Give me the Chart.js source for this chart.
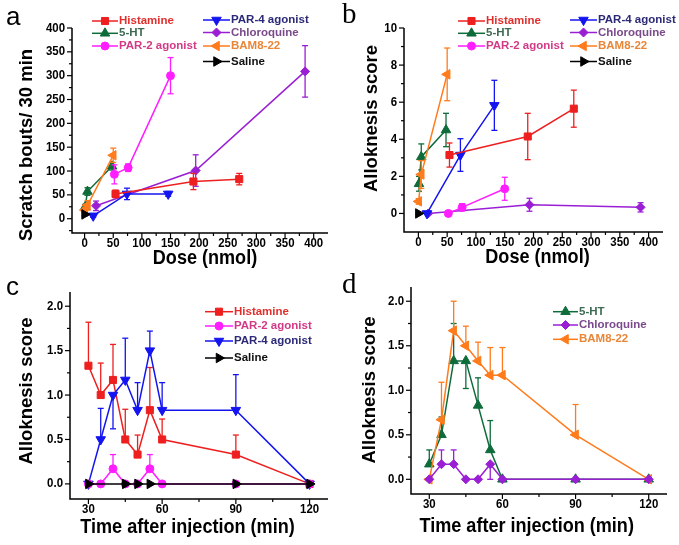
<!DOCTYPE html>
<html>
<head>
<meta charset="utf-8">
<script src="https://cdn.jsdelivr.net/npm/chart.js@4.4.0/dist/chart.umd.min.js"></script>
<style>
  body { margin: 0; background: #fff; width: 679px; height: 545px; overflow: hidden; position: relative; }
  canvas { position: absolute; }
</style>
</head>
<body>
<canvas id="ca" width="340" height="272" style="left:0;top:0"></canvas>
<canvas id="cb" width="339" height="272" style="left:340px;top:0"></canvas>
<canvas id="cc" width="340" height="273" style="left:0;top:272px"></canvas>
<canvas id="cd" width="339" height="273" style="left:340px;top:272px"></canvas>
<script>
// ---- panel a: scratch bouts vs dose ----
var aHistDose = [54, 190, 270], aHist = [52, 78, 83], aHistErr = [8, 17, 12];
var a5htDose = [1, 5, 48], a5ht = [25, 57, 110], a5htErr = [5, 8, 8];
var aPar2Dose = [52, 76, 150], aPar2 = [93, 107, 300], aPar2Err = [20, 8, 38];
var aPar4Dose = [15, 74, 146], aPar4 = [6, 52, 52], aPar4Err = [3, 12, 5];
var aCqDose = [20, 194, 385], aCq = [27, 101, 309], aCqErr = [10, 33, 54];
var aBamDose = [0.5, 5, 50], aBam = [18, 28, 133], aBamErr = [5, 10, 15];
var aSalDose = [0], aSal = [9], aSalErr = [3];

// ---- panel b: alloknesis vs dose ----
var bHistDose = [54, 190, 270], bHist = [3.15, 4.15, 5.65], bHistErr = [0.65, 1.25, 1.0];
var b5htDose = [1, 5, 48], b5ht = [1.6, 3.05, 4.5], b5htErr = [0.4, 0.7, 0.9];
var bPar2Dose = [52, 76, 150], bPar2 = [0, 0.33, 1.33], bPar2Err = [0.05, 0.2, 0.62];
var bPar4Dose = [15, 73, 132], bPar4 = [0, 3.15, 5.83], bPar4Err = [0, 0.88, 1.35];
var bCqDose = [17, 193, 386], bCq = [0, 0.47, 0.33], bCqErr = [0, 0.35, 0.25];
var bBamDose = [0.5, 5, 50], bBam = [0.65, 2.1, 7.5], bBamErr = [0.15, 0.75, 1.42];
var bSalDose = [0], bSal = [0], bSalErr = [0];

// ---- panels c, d: time course (negative err = bar drawn downward) ----
var times = [30, 35, 40, 45, 50, 55, 60, 90, 120];
var cHist = [1.33, 1.0, 1.17, 0.5, 0.33, 0.83, 0.5, 0.33, 0];
var cHistErr = [0.49, 0.36, 0.4, 0.34, 0.22, 0.48, 0.23, 0.22, 0];
var cPar2 = [0, 0, 0.17, 0, 0, 0.17, 0, 0, 0];
var cPar2Err = [0, 0, 0.16, 0, 0, 0.16, 0, 0, 0];
var cPar4 = [0, 0.5, 1.0, 1.17, 0.83, 1.5, 0.83, 0.83, 0];
var cPar4Err = [0, 0.35, -0.38, 0.47, 0.31, 0.22, 0.31, 0.4, 0];
var cSalTimes = [30, 45, 50, 55, 90, 120];
var cSal = [0, 0, 0, 0, 0, 0];

var d5ht = [0.17, 0.5, 1.33, 1.33, 0.83, 0.33, 0, 0, 0];
var d5htErr = [0.16, 0.2, 0.42, -0.31, 0.31, 0.33, 0, 0, 0];
var dCq = [0, 0.17, 0.17, 0, 0, 0.17, 0, 0, 0];
var dCqErr = [0, 0.16, 0.16, 0, 0, -0.17, 0, 0, 0];
var dBam = [0, 0.67, 1.67, 1.5, 1.33, 1.17, 1.17, 0.5, 0];
var dBamErr = [0, 0.42, 0.33, 0.22, 0.21, 0.31, 0.31, 0.34, 0];

// tick labels
var doseTicks = [0, 50, 100, 150, 200, 250, 300, 350, 400];
var doseMinor = [25, 75, 125, 175, 225, 275, 325, 375];
var scratchTicks = [0, 50, 100, 150, 200, 250, 300, 350, 400];
var scratchMinor = [-25, 25, 75, 125, 175, 225, 275, 325, 375];
var scoreTicks = [0, 2, 4, 6, 8, 10];
var scoreMinor = [1, 3, 5, 7, 9];
var timeTicks = [30, 60, 90, 120];
var timeMinor = [45, 75, 105];
var lateTicks = [0, 0.5, 1.0, 1.5, 2.0];
var lateMinor = [0.25, 0.75, 1.25, 1.75];

var styles = {
  'Histamine':     { c: '#ee1f1f', t: '#e0302e', ps: 'rect', r: 5, rot: 0 },
  '5-HT':          { c: '#0e6b3a', t: '#3e6a52', ps: 'triangle', r: 5.5, rot: 0 },
  'PAR-2 agonist': { c: '#ff1eff', t: '#d23a86', ps: 'circle', r: 4, rot: 0 },
  'PAR-4 agonist': { c: '#1414f0', t: '#2c2a78', ps: 'triangle', r: 5.5, rot: 180 },
  'Chloroquine':   { c: '#9a1fd4', t: '#7b4a8c', ps: 'rectRot', r: 4.5, rot: 0 },
  'BAM8-22':       { c: '#ff7b1c', t: '#e8873a', ps: 'triangle', r: 5.5, rot: -90 },
  'Saline':        { c: '#000000', t: '#111111', ps: 'triangle', r: 5.5, rot: 90 }
};

var SANS = '"Liberation Sans", Arial, sans-serif';
var SERIF = '"Liberation Serif", "Times New Roman", serif';

function series(name, xs, ys, errs) {
  var s = styles[name];
  return {
    label: name,
    data: xs.map(function (x, i) { return { x: x, y: ys[i] }; }),
    errs: errs,
    showLine: true,
    borderColor: s.c,
    backgroundColor: s.c,
    pointBackgroundColor: s.c,
    pointBorderColor: s.c,
    pointStyle: s.ps,
    pointRotation: s.rot,
    pointRadius: s.r,
    pointBorderWidth: 1,
    borderWidth: 1.5,
    clip: false
  };
}

function put(ctx, s, x, y, font, color, align, rot, sq, base) {
  ctx.save();
  ctx.translate(x, y);
  if (rot) ctx.rotate(rot);
  ctx.scale(sq || 1, 1);
  ctx.font = font;
  ctx.fillStyle = color;
  ctx.textAlign = align;
  ctx.textBaseline = base || 'middle';
  ctx.fillText(s, 0, 0);
  ctx.restore();
}

function seg(ctx, x1, y1, x2, y2) {
  ctx.beginPath(); ctx.moveTo(x1, y1); ctx.lineTo(x2, y2); ctx.stroke();
}

function fmt(v, dec) { return dec ? v.toFixed(dec) : String(v); }

// axes, ticks, error bars, legend, titles
function decor(cfg) {
  return {
    id: 'decor',
    beforeDatasetDraw: function (chart, args) {
      var ds = chart.data.datasets[args.index];
      if (!ds.errs) return;
      var ctx = chart.ctx, ys = chart.scales.y;
      ctx.save();
      ctx.strokeStyle = ds.borderColor;
      ctx.lineWidth = 1.3;
      args.meta.data.forEach(function (pt, i) {
        var e = ds.errs[i];
        if (!e) return;
        var v = ds.data[i].y, px = pt.x;
        if (cfg.both) {
          var t = ys.getPixelForValue(v + Math.abs(e)), b = ys.getPixelForValue(v - Math.abs(e));
          seg(ctx, px, t, px, b);
          seg(ctx, px - 3, t, px + 3, t);
          seg(ctx, px - 3, b, px + 3, b);
        } else {
          var end = ys.getPixelForValue(v + e);
          seg(ctx, px, pt.y, px, end);
          seg(ctx, px - 3, end, px + 3, end);
        }
      });
      ctx.restore();
    },
    afterDraw: function (chart) {
      var ctx = chart.ctx, a = chart.chartArea, xs = chart.scales.x, ys = chart.scales.y;
      var tickFont = 'bold 13px ' + SANS;
      ctx.save();
      ctx.strokeStyle = '#000';
      ctx.lineWidth = 1.5;
      ctx.beginPath();
      ctx.moveTo(a.left, a.top); ctx.lineTo(a.left, a.bottom); ctx.lineTo(a.right, a.bottom);
      ctx.stroke();
      ctx.lineWidth = 1.2;
      cfg.xTicks.forEach(function (v) {
        var p = xs.getPixelForValue(v);
        seg(ctx, p, a.bottom, p, a.bottom + 5);
        put(ctx, fmt(v, cfg.xDec), p, a.bottom + 10, tickFont, '#000', 'center', 0, 0.88);
      });
      cfg.xMinor.forEach(function (v) {
        var p = xs.getPixelForValue(v);
        seg(ctx, p, a.bottom, p, a.bottom + 3);
      });
      cfg.yTicks.forEach(function (v) {
        var p = ys.getPixelForValue(v);
        seg(ctx, a.left, p, a.left - 5, p);
        put(ctx, fmt(v, cfg.yDec), a.left - 7, p, tickFont, '#000', 'right', 0, 0.88);
      });
      cfg.yMinor.forEach(function (v) {
        var p = ys.getPixelForValue(v);
        seg(ctx, a.left, p, a.left - 3, p);
      });

      put(ctx, cfg.xTitle, cfg.xTitlePos[0], cfg.xTitlePos[1], 'bold 21px ' + SANS, '#000', 'center', 0, 0.86);
      put(ctx, cfg.yTitle, cfg.yTitlePos[0], cfg.yTitlePos[1], 'bold 18.5px ' + SANS, '#000', 'center', -Math.PI / 2);
      put(ctx, cfg.label, cfg.labelPos[0], cfg.labelPos[1], cfg.labelFont, '#000', 'left', 0, 1, 'alphabetic');

      cfg.legend.forEach(function (it) {
        var s = styles[it.n];
        ctx.strokeStyle = s.c;
        ctx.fillStyle = s.c;
        ctx.lineWidth = 1.5;
        seg(ctx, it.x1, it.y, it.x2, it.y);
        ctx.lineWidth = 1;
        Chart.helpers.drawPoint(ctx, { pointStyle: s.ps, rotation: s.rot, radius: s.r, borderWidth: 1 }, (it.x1 + it.x2) / 2, it.y);
        put(ctx, it.n, it.x2 + 1, it.y, 'bold 11.5px ' + SANS, s.t, 'left');
      });
      ctx.restore();
    }
  };
}

function mkChart(id, sets, cfg) {
  var el = document.getElementById(id);
  return new Chart(el.getContext('2d'), {
    type: 'scatter',
    data: { datasets: sets },
    options: {
      responsive: false,
      animation: false,
      events: [],
      layout: { padding: { left: 0, top: cfg.top, right: cfg.right, bottom: 0 } },
      plugins: { legend: { display: false }, tooltip: { enabled: false } },
      scales: {
        x: {
          type: 'linear', min: cfg.xMin, max: cfg.xMax,
          grid: { display: false }, border: { display: false }, ticks: { display: false },
          afterFit: function (s) { s.height = cfg.xH; }
        },
        y: {
          type: 'linear', min: cfg.yMin, max: cfg.yMax,
          grid: { display: false }, border: { display: false }, ticks: { display: false },
          afterFit: function (s) { s.width = cfg.yW; }
        }
      }
    },
    plugins: [decor(cfg)]
  });
}

mkChart('ca', [
  series('Saline', aSalDose, aSal, aSalErr),
  series('Histamine', aHistDose, aHist, aHistErr),
  series('PAR-4 agonist', aPar4Dose, aPar4, aPar4Err),
  series('PAR-2 agonist', aPar2Dose, aPar2, aPar2Err),
  series('Chloroquine', aCqDose, aCq, aCqErr),
  series('BAM8-22', aBamDose, aBam, aBamErr),
  series('5-HT', a5htDose, a5ht, a5htErr)
], {
  top: 28, right: 12, yW: 72, xH: 39,
  xMin: -22, xMax: 425, yMin: -30, yMax: 400,
  xTicks: doseTicks, xMinor: doseMinor, yTicks: scratchTicks, yMinor: scratchMinor,
  xDec: 0, yDec: 0, both: true,
  xTitle: 'Dose (nmol)', xTitlePos: [205, 258],
  yTitle: 'Scratch bouts/ 30 min', yTitlePos: [27, 145],
  label: 'a', labelFont: '26px ' + SANS, labelPos: [6, 25],
  legend: [
    { n: 'Histamine', x1: 92, x2: 118, y: 21 },
    { n: '5-HT', x1: 92, x2: 118, y: 33.3 },
    { n: 'PAR-2 agonist', x1: 92, x2: 118, y: 46 },
    { n: 'PAR-4 agonist', x1: 203, x2: 230, y: 20 },
    { n: 'Chloroquine', x1: 203, x2: 230, y: 32.5 },
    { n: 'BAM8-22', x1: 203, x2: 230, y: 46 },
    { n: 'Saline', x1: 203, x2: 230, y: 61.5 }
  ]
});

mkChart('cb', [
  series('Saline', bSalDose, bSal, bSalErr),
  series('Histamine', bHistDose, bHist, bHistErr),
  series('PAR-4 agonist', bPar4Dose, bPar4, bPar4Err),
  series('PAR-2 agonist', bPar2Dose, bPar2, bPar2Err),
  series('Chloroquine', bCqDose, bCq, bCqErr),
  series('BAM8-22', bBamDose, bBam, bBamErr),
  series('5-HT', b5htDose, b5ht, b5htErr)
], {
  top: 28, right: 16, yW: 64, xH: 40,
  xMin: -25, xMax: 425, yMin: -1, yMax: 10,
  xTicks: doseTicks, xMinor: doseMinor, yTicks: scoreTicks, yMinor: scoreMinor,
  xDec: 0, yDec: 0, both: true,
  xTitle: 'Dose (nmol)', xTitlePos: [197.5, 257],
  yTitle: 'Alloknesis score', yTitlePos: [32, 118.5],
  label: 'b', labelFont: '29px ' + SERIF, labelPos: [2, 23],
  legend: [
    { n: 'Histamine', x1: 118, x2: 145, y: 21 },
    { n: '5-HT', x1: 118, x2: 145, y: 33.3 },
    { n: 'PAR-2 agonist', x1: 118, x2: 145, y: 46 },
    { n: 'PAR-4 agonist', x1: 230, x2: 257, y: 20 },
    { n: 'Chloroquine', x1: 230, x2: 257, y: 32.5 },
    { n: 'BAM8-22', x1: 230, x2: 257, y: 46 },
    { n: 'Saline', x1: 230, x2: 257, y: 61.5 }
  ]
});

mkChart('cc', [
  series('Saline', cSalTimes, cSal, null),
  series('PAR-2 agonist', times, cPar2, cPar2Err),
  series('PAR-4 agonist', times, cPar4, cPar4Err),
  series('Histamine', times, cHist, cHistErr)
], {
  top: 20, right: 12, yW: 70, xH: 46,
  xMin: 22.5, xMax: 127.5, yMin: -0.17, yMax: 2.16,
  xTicks: timeTicks, xMinor: timeMinor, yTicks: lateTicks, yMinor: lateMinor,
  xDec: 0, yDec: 1, both: false,
  xTitle: 'Time after injection (min)', xTitlePos: [187.5, 255],
  yTitle: 'Alloknesis score', yTitlePos: [27, 119],
  label: 'c', labelFont: '26px ' + SANS, labelPos: [6, 23],
  legend: [
    { n: 'Histamine', x1: 205, x2: 233, y: 39.7 },
    { n: 'PAR-2 agonist', x1: 205, x2: 233, y: 54 },
    { n: 'PAR-4 agonist', x1: 205, x2: 233, y: 69 },
    { n: 'Saline', x1: 205, x2: 233, y: 86 }
  ]
});

mkChart('cd', [
  series('Chloroquine', times, dCq, dCqErr),
  series('BAM8-22', times, dBam, dBamErr),
  series('5-HT', times, d5ht, d5htErr)
], {
  top: 15, right: 12, yW: 71, xH: 51,
  xMin: 22.5, xMax: 127.5, yMin: -0.165, yMax: 2.16,
  xTicks: timeTicks, xMinor: timeMinor, yTicks: lateTicks, yMinor: lateMinor,
  xDec: 0, yDec: 1, both: false,
  xTitle: 'Time after injection (min)', xTitlePos: [186.7, 254],
  yTitle: 'Alloknesis score', yTitlePos: [30, 118],
  label: 'd', labelFont: '29px ' + SERIF, labelPos: [2, 21],
  legend: [
    { n: '5-HT', x1: 213, x2: 238, y: 39.7 },
    { n: 'Chloroquine', x1: 213, x2: 238, y: 53 },
    { n: 'BAM8-22', x1: 213, x2: 238, y: 67.3 }
  ]
});
</script>
</body>
</html>
